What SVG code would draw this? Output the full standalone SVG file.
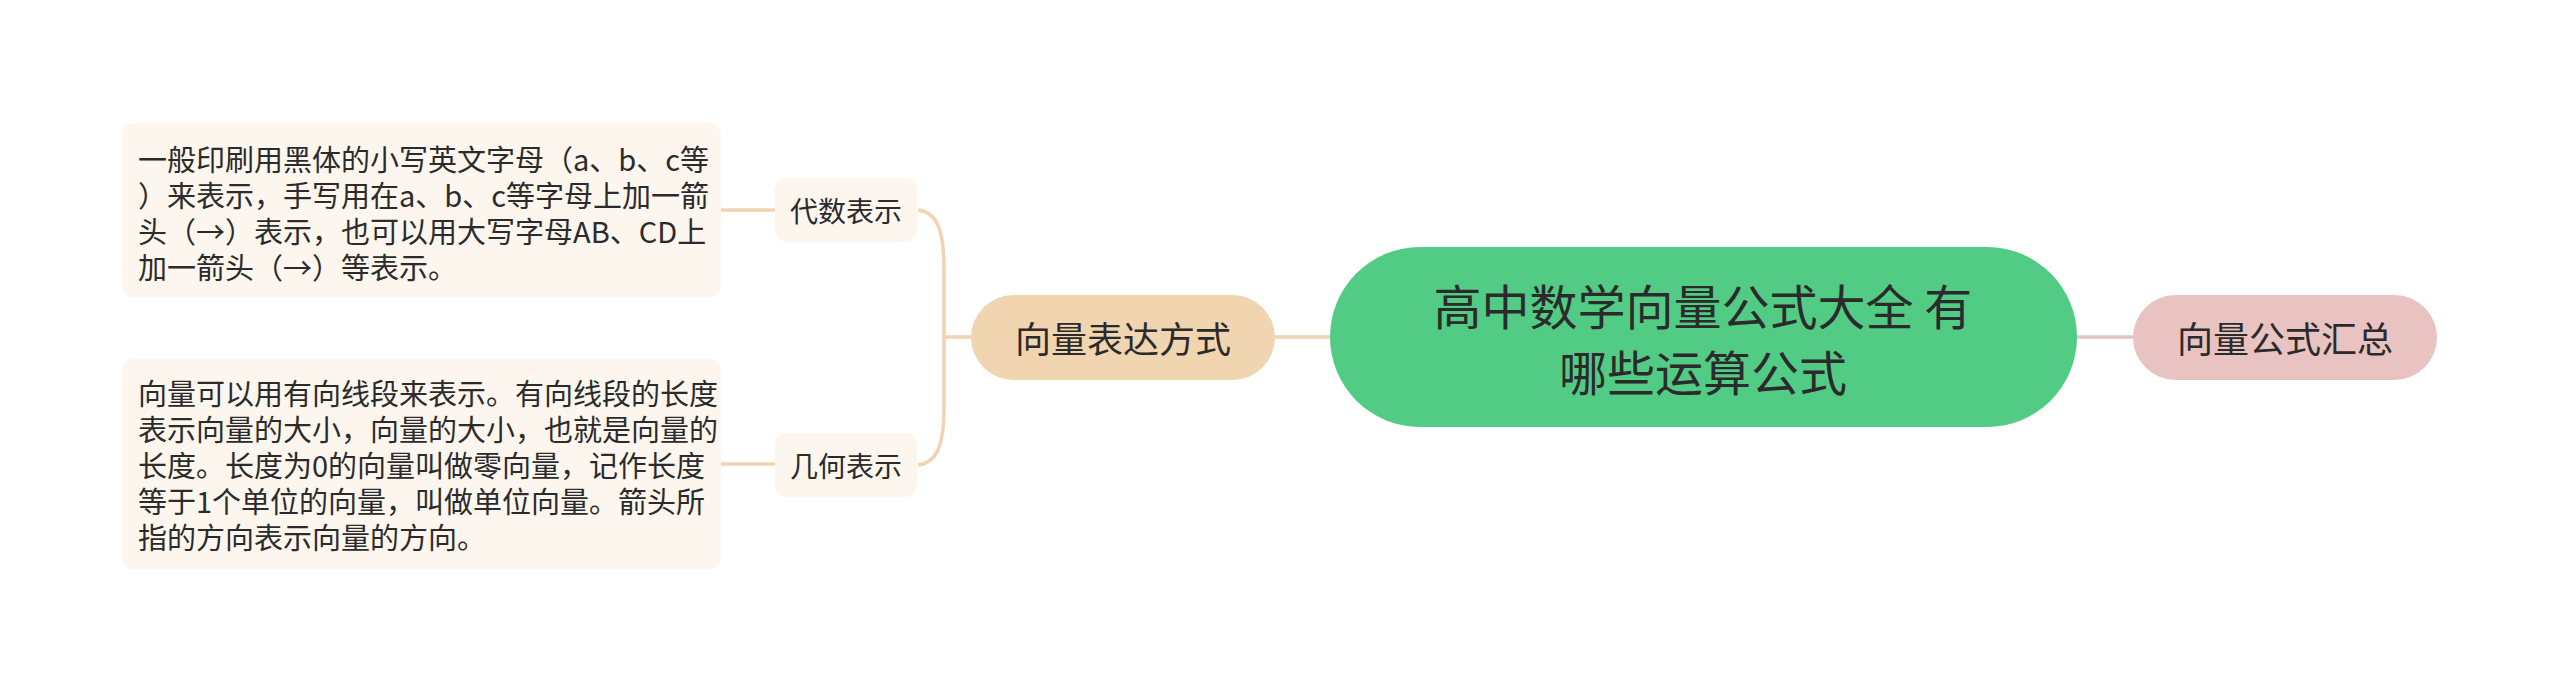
<svg xmlns="http://www.w3.org/2000/svg" width="2560" height="693" viewBox="0 0 2560 693">
<style>
text{font-family:"Noto Sans CJK SC","Noto Sans",sans-serif;fill:#2b2b2b;dominant-baseline:central}
.conn{fill:none;stroke:#f0d4b2;stroke-width:3.5}
.connp{fill:none;stroke:#e6c2c2;stroke-width:3.5}
.leaf{fill:#fdf6ef}
.leaft{font-size:29px}
.l2t{font-size:28px;text-anchor:middle}
.l1t{font-size:36px;text-anchor:middle}
.roott{font-size:48px;text-anchor:middle}
</style>
<rect width="2560" height="693" fill="#ffffff"/>
<g id="connectors">
<path class="conn" d="M1330,337 L1275,337"/>
<path class="conn" d="M971,337 L944,337"/>
<path class="conn" d="M918,210 C936,212 944,228 944,268 L944,407 C944,447 936,463 918,465"/>
<path class="conn" d="M775,210 L721,210"/>
<path class="conn" d="M775,464 L721,464"/>
<path class="connp" d="M2077,337 L2133,337"/>
</g>
<g id="root">
<rect x="1330" y="247" width="747" height="180" rx="90" fill="#52cc84"/>
<text class="roott" x="1703" y="304">高中数学向量公式大全 有</text>
<text class="roott" x="1703" y="370">哪些运算公式</text>
</g>
<g id="n-expr">
<rect x="971" y="295" width="304" height="85" rx="42.5" fill="#f1d4b0"/>
<text class="l1t" x="1123" y="337">向量表达方式</text>
</g>
<g id="n-summary">
<rect x="2133" y="295" width="304" height="85" rx="42.5" fill="#e8c3c2"/>
<text class="l1t" x="2285" y="337">向量公式汇总</text>
</g>
<g id="n-algebra">
<rect x="775" y="178" width="142" height="64" rx="12" class="leaf"/>
<text class="l2t" x="846" y="210">代数表示</text>
</g>
<g id="n-geometry">
<rect x="775" y="433" width="142" height="64" rx="12" class="leaf"/>
<text class="l2t" x="846" y="465">几何表示</text>
</g>
<g id="leaf-algebra">
<rect x="122" y="123" width="599" height="174" rx="12" class="leaf"/>
<text class="leaft" x="138" y="158">一般印刷用黑体的小写英文字母（a、b、c等</text>
<text class="leaft" x="138" y="194">）来表示，手写用在a、b、c等字母上加一箭</text>
<text class="leaft" x="138" y="230">头（→）表示，也可以用大写字母AB、CD上</text>
<text class="leaft" x="138" y="266">加一箭头（→）等表示。</text>
</g>
<g id="leaf-geometry">
<rect x="122" y="359" width="599" height="210" rx="12" class="leaf"/>
<text class="leaft" x="138" y="392">向量可以用有向线段来表示。有向线段的长度</text>
<text class="leaft" x="138" y="428">表示向量的大小，向量的大小，也就是向量的</text>
<text class="leaft" x="138" y="464">长度。长度为0的向量叫做零向量，记作长度</text>
<text class="leaft" x="138" y="500">等于1个单位的向量，叫做单位向量。箭头所</text>
<text class="leaft" x="138" y="536">指的方向表示向量的方向。</text>
</g>
</svg>
